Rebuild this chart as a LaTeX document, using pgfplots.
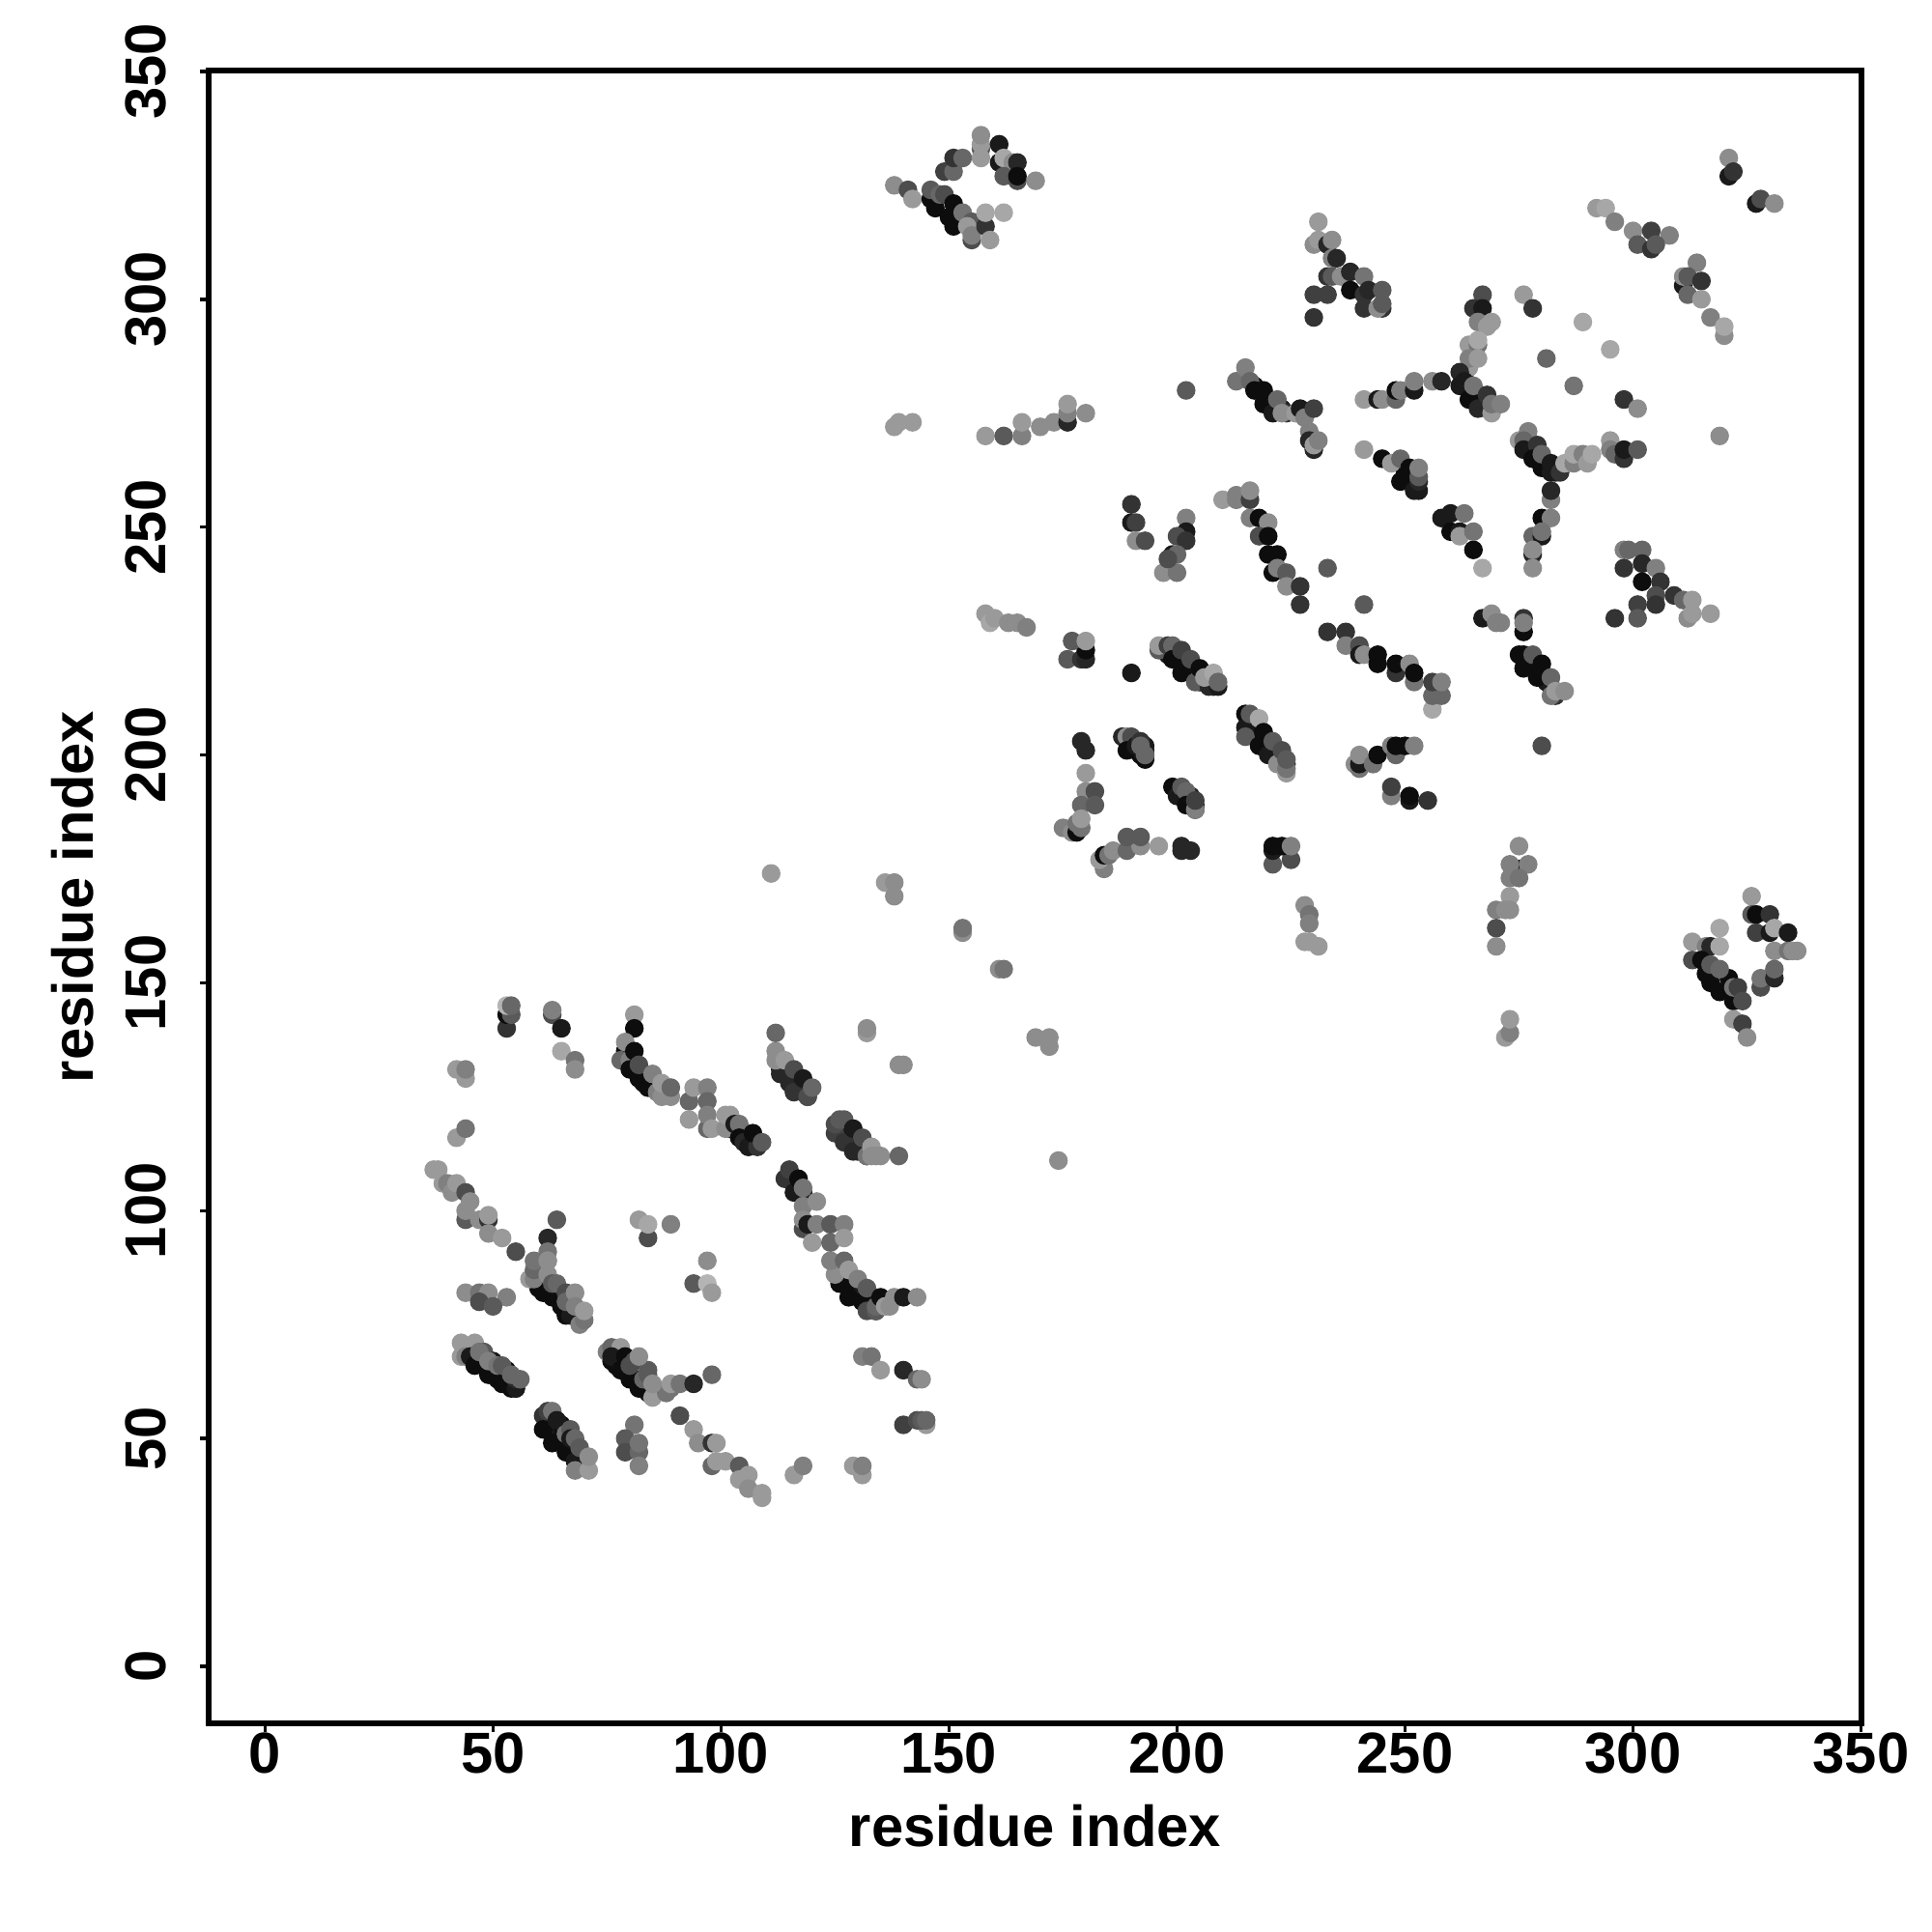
\documentclass[border=0pt]{standalone}
\usepackage{fontspec}
\setmainfont{Liberation Sans}
\usepackage{pgfplots}
\pgfplotsset{compat=1.18}
\begin{document}
\begin{tikzpicture}
\path[use as bounding box] (0,0) rectangle (20,20);
\begin{axis}[at={(2.16cm,2.16cm)},anchor=south west,scale only axis,width=17.11cm,height=17.11cm,
 xmin=-12.35,xmax=350.1,ymin=-12.5,ymax=350.2,
 axis line style={line width=1.7pt},
 tick style={line width=1.0pt,black},tick align=outside,major tick length=0.09cm,
 xtick={0,50,...,350},ytick={0,50,...,350},xtick pos=lower,ytick pos=left,
 /pgf/number format/assume math mode=true,
 ticklabel style={font=\fontsize{17}{20}\selectfont\bfseries},
 xticklabel style={anchor=center,yshift=-0.215cm},
 yticklabel style={rotate=90,anchor=center,yshift=0.56cm},
 xlabel={residue index},ylabel={residue index},
 label style={font=\fontsize{17}{20}\selectfont\bfseries},
 xlabel style={at={(axis description cs:0.5,0)},anchor=center,yshift=-1.06cm},
 ylabel style={at={(axis description cs:0,0.5)},anchor=center,yshift=1.405cm},
 colormap={bw}{gray(0cm)=(0); gray(1cm)=(1)},point meta min=0,point meta max=1,
 clip=false]
\addplot[scatter,only marks,mark=*,mark size=2.55pt,line width=0.4pt,point meta=explicit,scatter/use mapped color={draw=mapped color,fill=mapped color}]
 table[row sep=\\,x=x,y=y,meta=g]{
x y g\\
60 85 .05\\ 61 84 .05\\ 62 83 .05\\ 63 82 .1\\ 64 81 .05\\ 65 80 .05\\ 66 79 .1\\ 67 78 .05\\ 68 77 .05\\ 69 76 .1\\
45 69 .05\\ 46 68 .05\\ 47 67 .1\\ 48 66 .05\\ 49 65 .05\\ 50 64 .1\\ 51 63 .05\\ 52 63 .05\\ 53 62 .1\\ 54 61 .05\\ 55 61 .05\\
62 53 .05\\ 63 52 .05\\ 64 51 .1\\ 65 50 .05\\ 66 49 .05\\ 67 48 .1\\ 68 47 .05\\ 69 46 .05\\
76 67 .05\\ 77 66 .05\\ 78 66 .1\\ 79 65 .05\\ 80 64 .05\\ 81 63 .1\\ 82 62 .05\\ 83 61 .05\\ 84 60 .1\\
79 135 .05\\ 80 132 .05\\ 81 131 .1\\ 82 130 .05\\ 83 128 .05\\ 84 128 .1\\ 85 127 .05\\ 86 127 .3\\
113 131 .1\\ 114 130 .2\\ 115 129 .1\\ 116 128 .05\\ 117 127 .15\\ 118 126 .1\\ 119 125 .2\\
126 117 .15\\ 127 116 .05\\ 128 115 .15\\ 129 114 .1\\ 130 113 .15\\ 131 113 .2\\ 132 112 .2\\
102 118 .1\\ 103 118 .1\\ 104 117 .05\\ 105 116 .05\\ 106 115 .05\\ 107 115 .1\\
115 107 .1\\ 116 106 .05\\ 117 105 .1\\ 118 104 .1\\
126 85 .05\\ 127 84 .1\\ 128 83 .05\\ 129 82 .05\\ 130 81 .1\\ 132 80 .05\\ 133 79 .1\\ 134 78 .1\\
198 222 .1\\ 199 222 .1\\ 200 221 .05\\ 201 220 .05\\ 202 219 .05\\ 203 218 .05\\ 204 217 .1\\ 205 216 .05\\ 206 216 .1\\ 207 216 .05\\ 208 215 .1\\
216 207 .05\\ 217 206 .05\\ 217 204 .1\\ 218 205 .05\\ 219 203 .05\\ 220 202 .1\\ 221 201 .05\\ 222 200 .05\\ 223 199 .1\\ 224 198 .1\\
276 222 .05\\ 277 221 .05\\ 278 220 .1\\ 279 219 .05\\ 280 218 .05\\ 281 216 .1\\ 282 215 .1\\ 283 213 .2\\
217 281 .05\\ 218 280 .1\\ 219 279 .05\\ 220 278 .05\\ 221 277 .1\\ 222 276 .1\\ 223 276 .1\\ 224 275 .2\\
263 283 .05\\ 264 281 .1\\ 265 280 .05\\ 266 279 .05\\ 267 278 .1\\ 268 277 .05\\ 268 276 .1\\ 269 276 .2\\
277 268 .05\\ 278 267 .05\\ 279 266 .1\\ 280 265 .05\\ 281 264 .05\\ 282 263 .1\\ 283 262 .1\\
189 203 .1\\ 190 203 .05\\ 190 202 .1\\ 191 201 .05\\ 192 200 .05\\ 192 201 .1\\ 193 200 .05\\ 193 202 .1\\
200 192 .05\\ 201 191 .05\\ 202 190 .1\\ 203 189 .05\\ 203 191 .1\\ 204 189 .1\\
250 262 .05\\ 251 261 .1\\ 252 260 .05\\ 252 259 .1\\ 253 258 .1\\
53 140 .2\\ 53 143 .05\\ 54 143 .35\\ 53 145 .7\\ 54 145 .4\\ 63 143 .3\\ 63 144 .5\\ 65 140 .1\\ 65 135 .65\\ 68 133 .45\\ 68 131 .55\\
42 131 .6\\ 44 129 .6\\ 44 131 .5\\ 42 116 .6\\ 44 118 .45\\
37 109 .6\\ 38 109 .6\\ 39 106 .6\\ 40 106 .5\\ 41 104 .55\\ 42 106 .6\\ 44 104 .3\\ 44 98 .35\\ 44 100 .55\\ 45 102 .55\\ 47 98 .55\\ 49 98 .2\\ 49 99 .6\\ 49 95 .55\\ 52 94 .6\\ 55 91 .3\\ 64 98 .35\\ 62 94 .15\\ 62 91 .45\\ 62 89 .55\\
81 143 .6\\ 81 140 .05\\ 78 133 .4\\ 79 137 .55\\ 80 133 .5\\ 80 131 .05\\ 81 135 .05\\ 82 129 .05\\ 84 127 .05\\ 82 132 .3\\ 85 130 .5\\ 86 126 .5\\ 87 125 .55\\ 89 125 .55\\ 87 128 .6\\ 89 127 .4\\
93 124 .4\\ 94 127 .6\\ 97 127 .5\\ 97 124 .4\\ 93 120 .6\\ 97 118 .4\\ 97 121 .5\\ 98 118 .6\\ 101 118 .55\\ 101 121 .6\\ 102 121 .6\\ 103 119 .1\\ 104 119 .45\\ 104 116 .05\\ 105 115 .15\\ 106 114 .1\\ 108 114 .2\\ 107 117 .05\\ 109 115 .35\\
113 130 .15\\ 112 133 .55\\ 112 135 .55\\ 112 139 .4\\ 114 133 .6\\ 115 128 .15\\ 116 131 .3\\ 116 126 .2\\ 118 129 .1\\ 119 125 .3\\ 120 127 .4\\ 132 139 .6\\ 132 140 .55\\ 139 132 .55\\ 140 132 .55\\
125 117 .25\\ 125 119 .3\\ 126 120 .35\\ 127 120 .35\\ 127 115 .2\\ 129 113 .15\\ 129 118 .1\\ 131 116 .3\\ 132 112 .45\\ 133 114 .6\\ 133 112 .55\\ 134 112 .55\\ 135 112 .55\\ 139 112 .4\\
114 107 .2\\ 115 109 .25\\ 116 104 .1\\ 117 107 .05\\ 118 105 .45\\ 118 101 .5\\ 121 102 .55\\ 118 96 .3\\ 118 98 .55\\ 119 97 .1\\ 121 97 .5\\ 124 97 .35\\ 127 97 .5\\ 120 93 .6\\ 124 93 .4\\ 127 94 .6\\
82 98 .6\\ 84 94 .3\\ 84 97 .65\\ 89 97 .5\\ 97 89 .55\\ 94 84 .35\\ 97 84 .7\\ 98 82 .6\\
44 82 .55\\ 47 82 .45\\ 49 82 .55\\ 53 81 .5\\ 47 80 .3\\ 50 79 .35\\
60 83 .05\\ 61 82 .05\\ 63 81 .05\\ 65 79 .05\\ 67 81 .05\\ 66 77 .05\\ 67 77 .1\\ 58 85 .6\\ 59 85 .5\\ 59 87 .4\\ 59 89 .45\\ 62 86 .55\\ 62 89 .55\\ 63 84 .35\\ 64 84 .4\\ 66 82 .3\\ 66 80 .4\\ 68 82 .55\\ 68 79 .5\\ 69 75 .5\\ 70 76 .45\\ 70 78 .6\\
43 71 .6\\ 46 71 .6\\ 43 68 .6\\ 44 68 .5\\ 45 68 .1\\ 46 66 .05\\ 48 69 .35\\ 47 69 .45\\ 49 64 .05\\ 50 67 .1\\ 49 67 .5\\ 51 66 .45\\ 52 62 .05\\ 53 65 .05\\ 52 66 .35\\ 54 62 .05\\ 55 61 .1\\ 55 63 .15\\ 54 64 .4\\ 56 63 .4\\
75 69 .5\\ 76 70 .4\\ 78 70 .6\\ 76 68 .1\\ 78 65 .05\\ 79 68 .05\\ 80 63 .05\\ 82 61 .05\\ 80 66 .3\\ 85 60 .05\\ 85 59 .6\\ 83 63 .4\\ 81 67 .3\\ 84 65 .35\\ 84 64 .35\\ 82 68 .55\\ 88 60 .45\\ 89 61 .45\\ 85 62 .55\\ 89 62 .6\\ 91 62 .45\\ 94 62 .15\\ 98 64 .4\\
61 55 .2\\ 62 56 .25\\ 63 56 .45\\ 61 52 .05\\ 63 49 .05\\ 65 53 .05\\ 64 54 .1\\ 66 47 .05\\ 66 51 .45\\ 67 52 .35\\ 67 50 .1\\ 68 50 .4\\ 68 45 .1\\ 69 48 .35\\ 68 43 .5\\ 71 43 .6\\ 71 46 .55\\
81 53 .45\\ 79 50 .35\\ 79 47 .3\\ 82 47 .4\\ 82 49 .45\\ 82 44 .5\\
91 55 .3\\ 94 52 .6\\ 95 49 .55\\ 98 49 .2\\ 99 49 .6\\ 98 44 .4\\ 99 45 .6\\ 101 45 .6\\ 104 44 .35\\ 104 41 .6\\ 106 42 .6\\ 106 39 .55\\ 109 37 .6\\ 109 38 .6\\ 116 42 .6\\ 118 44 .5\\ 129 44 .6\\ 131 42 .6\\ 131 44 .5\\
131 68 .5\\ 133 68 .45\\ 135 65 .6\\ 140 65 .15\\ 143 63 .4\\ 144 63 .55\\ 140 53 .25\\ 145 53 .6\\ 143 54 .3\\ 144 54 .35\\ 145 54 .4\\
126 84 .05\\ 128 81 .05\\ 131 80 .05\\ 125 86 .55\\ 124 89 .5\\ 127 89 .4\\ 128 87 .6\\ 130 85 .5\\ 132 83 .35\\ 132 78 .3\\ 134 78 .35\\ 134 79 .4\\ 135 81 .05\\ 136 79 .6\\ 137 79 .55\\ 138 81 .55\\ 140 81 .1\\ 143 81 .55\\
111 174 .6\\ 136 172 .6\\ 138 172 .55\\ 138 169 .55\\ 153 161 .55\\ 153 162 .45\\ 161 153 .55\\ 162 153 .45\\ 169 138 .55\\ 172 136 .55\\ 172 138 .55\\ 174 111 .55\\
176 221 .35\\ 179 221 .2\\ 180 221 .15\\ 180 223 .05\\ 177 225 .35\\ 180 225 .6\\ 190 218 .1\\
196 223 .35\\ 196 224 .6\\ 198 224 .25\\ 199 224 .4\\ 199 221 .05\\ 201 218 .05\\ 201 223 .25\\ 203 221 .3\\ 204 216 .35\\ 205 219 .05\\ 207 215 .15\\ 209 215 .1\\ 206 217 .6\\ 208 218 .65\\ 209 216 .4\\
215 209 .05\\ 215 206 .1\\ 215 204 .35\\ 216 209 .35\\ 218 208 .65\\ 218 202 .05\\ 219 205 .05\\ 220 200 .1\\ 221 203 .35\\ 222 198 .55\\ 223 201 .3\\ 224 196 .6\\ 224 197 .45\\ 224 199 .35\\
233 227 .2\\ 237 227 .2\\ 237 224 .5\\ 240 224 .3\\ 240 222 .1\\ 241 222 .55\\ 244 220 .05\\ 244 222 .05\\ 248 218 .2\\ 248 220 .05\\ 251 220 .55\\ 252 216 .45\\ 252 218 .05\\ 256 210 .65\\ 256 213 .4\\ 258 213 .4\\ 256 216 .25\\ 258 216 .5\\
239 198 .55\\ 240 197 .45\\ 240 198 .1\\ 240 200 .55\\ 243 198 .45\\ 244 200 .05\\ 247 202 .5\\ 248 200 .4\\ 248 202 .05\\ 250 202 .05\\ 252 202 .5\\
247 191 .5\\ 247 193 .25\\ 251 190 .1\\ 251 191 .05\\ 255 190 .2\\ 280 202 .3\\
179 203 .15\\ 180 201 .15\\ 180 196 .6\\ 180 192 .55\\ 182 192 .3\\ 179 189 .4\\ 182 189 .35\\ 175 184 .5\\ 177 183 .55\\ 178 183 .05\\ 178 185 .45\\ 179 184 .45\\ 179 186 .6\\
188 204 .15\\ 189 204 .55\\ 190 204 .3\\ 189 201 .05\\ 191 202 .1\\ 192 203 .2\\ 193 199 .05\\ 193 201 .1\\ 193 200 .4\\ 192 202 .4\\
199 193 .05\\ 200 191 .1\\ 201 193 .35\\ 202 192 .4\\ 202 189 .05\\ 204 188 .15\\ 204 188 .5\\ 204 190 .25\\
184 175 .5\\ 183 177 .6\\ 184 178 .05\\ 185 178 .45\\ 186 179 .55\\ 189 179 .4\\ 192 180 .55\\ 189 182 .35\\ 192 182 .35\\ 196 180 .6\\ 201 179 .15\\ 201 180 .15\\ 203 179 .15\\
221 176 .35\\ 225 177 .3\\ 221 179 .1\\ 221 180 .05\\ 223 180 .05\\ 225 180 .5\\
275 175 .05\\ 275 180 .55\\ 273 176 .5\\ 277 176 .5\\ 273 173 .5\\ 275 173 .45\\ 273 169 .6\\ 270 166 .5\\ 272 166 .55\\ 273 166 .55\\ 270 162 .3\\ 270 158 .55\\ 272 138 .6\\ 273 139 .5\\ 273 142 .6\\
228 167 .55\\ 229 165 .45\\ 229 163 .5\\ 228 159 .6\\ 229 159 .6\\ 231 158 .6\\
231 317 .6\\ 230 312 .55\\ 231 313 .6\\ 233 312 .15\\ 234 313 .55\\ 234 309 .5\\ 235 309 .15\\ 233 305 .2\\ 234 305 .35\\ 236 305 .55\\ 238 306 .15\\ 241 305 .45\\ 230 301 .25\\ 233 301 .25\\ 238 302 .05\\ 241 301 .2\\ 242 302 .15\\ 245 302 .35\\ 241 298 .2\\ 245 298 .2\\ 244 298 .55\\ 245 299 .35\\ 230 296 .2\\
267 301 .3\\ 265 298 .2\\ 267 298 .1\\ 266 295 .5\\ 268 294 .6\\ 269 295 .6\\ 264 290 .6\\ 266 290 .45\\ 266 291 .65\\ 264 285 .6\\ 264 287 .5\\ 266 287 .6\\
262 284 .15\\ 262 281 .1\\ 263 282 .1\\ 264 278 .05\\ 265 281 .45\\ 266 276 .15\\ 268 279 .2\\ 269 275 .6\\ 269 277 .45\\ 271 277 .5\\
241 278 .6\\ 244 278 .1\\ 245 278 .55\\ 248 278 .4\\ 248 280 .05\\ 249 280 .5\\ 252 280 .1\\ 252 282 .5\\ 256 282 .55\\ 258 282 .15\\
276 301 .6\\ 278 298 .2\\ 289 295 .65\\ 295 289 .65\\ 281 287 .4\\ 287 281 .45\\ 298 278 .2\\ 301 276 .55\\ 319 270 .55\\
292 320 .6\\ 294 320 .65\\ 296 317 .5\\ 300 315 .55\\ 304 315 .25\\ 308 314 .5\\ 301 312 .35\\ 304 311 .2\\ 305 312 .35\\
314 308 .5\\ 311 303 .1\\ 311 305 .55\\ 312 305 .35\\ 315 304 .2\\ 312 301 .4\\ 315 300 .6\\ 317 296 .5\\ 320 292 .55\\ 320 294 .65\\
321 331 .55\\ 321 327 .1\\ 322 328 .2\\ 327 321 .1\\ 328 322 .3\\ 331 321 .55\\
213 282 .45\\ 215 285 .5\\ 216 282 .4\\ 217 280 .05\\ 219 277 .05\\ 219 280 .05\\ 221 275 .1\\ 222 278 .4\\ 223 275 .55\\ 226 275 .6\\ 227 276 .1\\ 228 274 .5\\ 230 276 .25\\ 229 271 .5\\ 230 267 .15\\ 229 269 .15\\ 230 268 .6\\ 231 269 .5\\
241 267 .6\\ 245 265 .05\\ 247 264 .6\\ 249 265 .4\\ 249 260 .05\\ 251 263 .05\\ 252 258 .1\\ 253 260 .15\\ 253 261 .35\\ 253 263 .5\\
258 252 .1\\ 260 249 .05\\ 260 253 .1\\ 262 249 .1\\ 262 248 .6\\ 263 253 .45\\ 265 245 .05\\ 265 249 .45\\ 267 241 .65\\
275 269 .6\\ 277 271 .5\\ 276 269 .4\\ 276 267 .1\\ 279 268 .2\\ 278 265 .05\\ 280 263 .05\\ 280 266 .4\\ 282 262 .1\\ 282 264 .1\\ 284 262 .2\\ 285 264 .65\\ 287 264 .5\\ 287 266 .65\\ 289 266 .5\\ 290 264 .6\\ 291 266 .65\\ 295 269 .6\\ 295 267 .5\\ 296 266 .4\\ 298 265 .2\\ 298 267 .1\\ 301 267 .35\\
282 256 .5\\ 282 258 .15\\ 280 252 .05\\ 282 252 .5\\ 278 248 .4\\ 280 248 .1\\ 280 249 .45\\ 278 244 .15\\ 278 245 .55\\ 278 241 .55\\
298 245 .5\\ 299 245 .4\\ 302 245 .4\\ 298 241 .2\\ 302 242 .15\\ 305 241 .5\\ 302 238 .05\\ 306 238 .2\\ 305 235 .3\\ 305 233 .2\\ 301 233 .25\\ 309 235 .2\\ 311 234 .4\\ 312 230 .55\\ 313 231 .6\\ 313 234 .6\\ 317 231 .6\\ 296 230 .2\\ 301 230 .35\\
210 256 .6\\ 213 256 .5\\ 213 257 .5\\ 216 256 .25\\ 216 258 .55\\ 216 252 .5\\ 218 252 .05\\ 220 251 .55\\ 218 248 .3\\ 220 248 .05\\ 220 244 .05\\ 222 244 .05\\ 221 240 .05\\ 222 241 .5\\ 224 240 .35\\ 224 237 .55\\ 227 237 .2\\ 227 233 .2\\ 233 241 .35\\ 241 233 .35\\
267 230 .1\\ 269 231 .55\\ 270 229 .5\\ 271 229 .5\\ 276 230 .2\\ 276 227 .05\\ 276 229 .5\\ 275 222 .05\\ 276 219 .05\\ 278 222 .35\\ 279 217 .05\\ 280 220 .05\\ 282 217 .4\\ 282 213 .45\\ 283 214 .6\\ 285 214 .55\\
138 325 .55\\ 141 324 .3\\ 142 322 .6\\ 146 322 .05\\ 147 320 .05\\ 146 324 .35\\ 148 323 .4\\ 149 323 .3\\ 150 318 .05\\ 151 316 .05\\ 151 321 .05\\ 153 319 .45\\ 155 317 .35\\ 154 316 .6\\ 155 313 .3\\ 155 314 .5\\ 158 316 .2\\ 158 319 .65\\ 159 313 .6\\ 162 319 .65\\
149 328 .25\\ 151 328 .4\\ 151 331 .2\\ 153 331 .4\\ 157 333 .35\\ 157 334 .6\\ 157 336 .55\\ 157 331 .6\\ 161 334 .1\\ 161 330 .1\\ 162 331 .65\\ 164 330 .55\\ 165 330 .15\\ 162 327 .35\\ 165 326 .3\\ 165 327 .05\\ 169 326 .55\\
138 272 .6\\ 139 273 .6\\ 142 273 .6\\ 158 270 .6\\ 162 270 .35\\ 166 270 .5\\ 166 273 .6\\ 170 272 .55\\ 173 273 .55\\ 176 273 .15\\ 176 275 .5\\ 176 277 .6\\ 180 275 .55\\
158 231 .6\\ 159 229 .65\\ 160 230 .6\\ 163 229 .55\\ 165 229 .55\\ 167 228 .5\\ 202 280 .35\\
190 255 .2\\ 190 251 .1\\ 191 251 .25\\ 191 247 .55\\ 193 247 .3\\ 202 252 .5\\ 202 249 .1\\ 200 248 .3\\ 202 247 .2\\ 199 244 .1\\ 200 244 .4\\ 197 240 .55\\ 200 240 .45\\ 198 243 .3\\
326 169 .6\\ 326 165 .35\\ 327 165 .05\\ 330 165 .2\\ 327 161 .25\\ 330 161 .1\\ 331 162 .65\\ 334 161 .1\\ 331 157 .55\\ 334 157 .45\\ 335 157 .55\\ 336 157 .55\\ 319 162 .65\\ 313 159 .6\\ 316 158 .5\\ 317 158 .15\\ 319 158 .65\\ 313 155 .3\\ 315 155 .05\\ 316 152 .05\\ 317 150 .05\\ 319 148 .05\\ 321 151 .05\\ 317 154 .35\\ 319 153 .4\\ 322 146 .05\\ 322 149 .45\\ 323 149 .25\\ 324 146 .3\\ 322 142 .6\\ 324 141 .25\\ 325 138 .55\\ 328 149 .3\\ 328 151 .45\\ 331 151 .15\\ 331 153 .4\\
};
\end{axis}
\end{tikzpicture}
\end{document}
